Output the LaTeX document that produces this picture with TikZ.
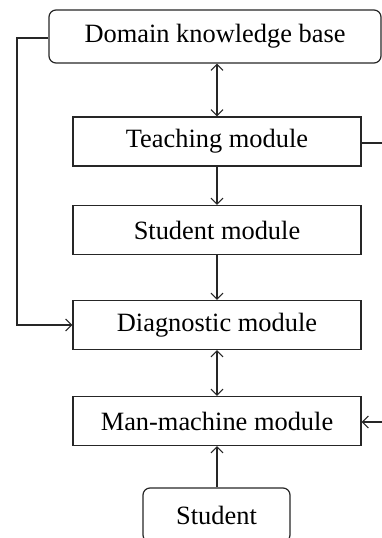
\documentclass[tikz,border=0pt]{standalone}
\usepackage{fontspec}
\setmainfont{Liberation Serif}
\usetikzlibrary{arrows.meta}
\begin{document}
\begin{tikzpicture}[x=1pt,y=-1pt,
  line width=1.2pt,
  draw=black!85,
  font=\fontsize{26.4}{29}\selectfont,
  box/.style={draw, rectangle, inner sep=0pt, minimum width=288pt, minimum height=49pt},
  rbox/.style={draw, rectangle, rounded corners=7pt, inner sep=0pt},
  link/.style={-{Straight Barb[length=6pt,width=12pt,line width=1.1pt]}},
  dlink/.style={{Straight Barb[length=6pt,width=12pt,line width=1.1pt]}-{Straight Barb[length=6pt,width=12pt,line width=1.1pt]}}]
  \clip (0,0) rectangle (382,538);
  \useasboundingbox (0,0) rectangle (382,538);

  % modules
  \node[rbox, minimum width=332pt, minimum height=53pt] (dkb) at (215,36.5) {Domain knowledge base};
  \node[box] (teach) at (217,141.5) {Teaching module};
  \node[box] (smod) at (217,230) {Student module};
  \node[box] (diag) at (217,325) {Diagnostic module};
  \node[box] (mm) at (217,421) {Man-machine module};
  \node[rbox, minimum width=147pt, minimum height=54pt] (stu) at (216.5,515) {Student};

  % off-page ends on the right
  \coordinate (tout) at (395,143);
  \coordinate (min) at (395,422);
  \coordinate (lc1) at (17,38);
  \coordinate (lc2) at (17,325);

  % connectors
  \draw[dlink] (dkb.south -| teach.north) -- (teach.north);
  \draw[link] (teach) -- (smod);
  \draw[link] (smod) -- (diag);
  \draw[dlink] (diag) -- (mm);
  \draw[link] (stu.north -| mm.south) -- (mm.south);
  \draw (teach.east |- tout) -- (tout);
  \draw[link] (min) -- (mm.east |- min);
  \draw[link] (dkb.west |- lc1) -- (lc1) -- (lc2) -- (diag.west);
\end{tikzpicture}
\end{document}
